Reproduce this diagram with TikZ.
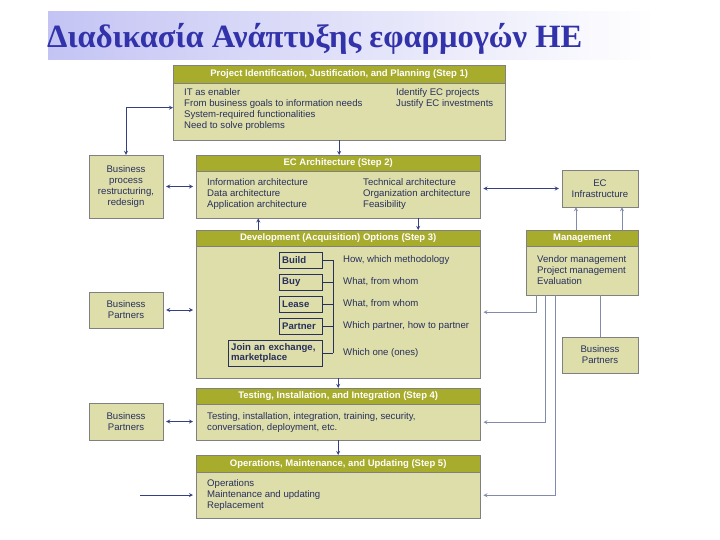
\documentclass[tikz,border=0pt]{standalone}
\usepackage{fontspec}
\setmainfont{Liberation Sans}
\newfontfamily\titlefont{Liberation Serif}

\definecolor{stephead}{RGB}{168,172,44}
\definecolor{stepbody}{RGB}{221,222,170}
\definecolor{stepink}{RGB}{40,48,92}
\definecolor{stepline}{RGB}{52,64,128}
\definecolor{mgmtline}{RGB}{128,140,170}
\definecolor{titleink}{RGB}{50,50,170}
\definecolor{titleback}{RGB}{196,196,244}

\begin{document}
\begin{tikzpicture}[x=1pt,y=-1pt,font=\fontsize{9.6}{11}\selectfont,>=stealth]
    \tikzset{
        head/.style={
            draw=black!50,fill=stephead,text=white,anchor=north west,
            font=\bfseries\fontsize{9.5}{10}\selectfont,inner sep=0pt
        },
        body/.style={
            draw=black!50,fill=stepbody,anchor=north west,inner sep=0pt
        },
        side/.style={
            draw=black!50,fill=stepbody,text=stepink,align=center,
            minimum width=74pt,inner sep=0pt
        },
        txt/.style={anchor=north west,align=left,inner sep=0pt,text=stepink},
        opt/.style={
            draw=stepink,fill=stepbody,text=stepink,anchor=north west,
            font=\bfseries\fontsize{9.6}{10.5}\selectfont,align=left,
            inner xsep=3pt,inner ysep=0pt
        },
        flow/.style={stepline,thick},
        feed/.style={mgmtline,thick}
    }
    \useasboundingbox (0,0) rectangle (720,540);

    % title
    \shade[left color=titleback,right color=white] (48,12) rectangle (655,60);
    \node[anchor=base west,inner sep=0pt,text=titleink,
        font=\titlefont\bfseries\fontsize{32.5}{36}\selectfont] (title) at (47,48)
        {Διαδικασία Ανάπτυξης εφαρμογών ΗΕ};

    % step 1
    \node[body,minimum width=332pt,minimum height=57pt] (planbody) at (173,83) {};
    \node[head,minimum width=332pt,minimum height=18pt] (plan) at (173,65)
        {Project Identification, Justification, and Planning (Step 1)};
    \node[txt] (plantxt) at (184,88)
        {IT as enabler\\From business goals to information needs\\
         System-required functionalities\\Need to solve problems};
    \node[txt] (plantxtb) at (396,88)
        {Identify EC projects\\Justify EC investments};

    % step 2
    \node[body,minimum width=284pt,minimum height=47pt] (archbody) at (196,171) {};
    \node[head,minimum width=284pt,minimum height=16pt] (arch) at (196,155)
        {EC Architecture (Step 2)};
    \node[txt] (archtxt) at (207,178)
        {Information architecture\\Data architecture\\Application architecture};
    \node[txt] (archtxtb) at (363,178)
        {Technical architecture\\Organization architecture\\Feasibility};

    % step 3
    \node[body,minimum width=284pt,minimum height=132pt] (devbody) at (196,246) {};
    \node[head,minimum width=284pt,minimum height=16pt] (dev) at (196,230)
        {Development (Acquisition) Options (Step 3)};
    \node[opt,text width=37pt,minimum height=16pt] (build) at (279,252) {Build};
    \node[opt,text width=37pt,minimum height=16pt] (buy) at (279,274) {Buy};
    \node[opt,text width=37pt,minimum height=16pt] (lease) at (279,296) {Lease};
    \node[opt,text width=37pt,minimum height=16pt] (partner) at (279,318) {Partner};
    \node[opt,text width=88pt,minimum height=26pt] (join) at (228,340)
        {Join an exchange,\\marketplace};
    \coordinate (brk) at (333,0);
    \foreach \o in {build,buy,lease,partner,join}
        \draw[stepink,thick] (\o.east) -- (\o.east -| brk);
    \draw[stepink,thick] (build.east -| brk) -- (join.east -| brk);
    \node[txt,anchor=west] (buildtxt) at (343,260) {How, which methodology};
    \node[txt,anchor=west] (buytxt) at (343,282) {What, from whom};
    \node[txt,anchor=west] (leasetxt) at (343,304) {What, from whom};
    \node[txt,anchor=west] (partnertxt) at (343,326) {Which partner, how to partner};
    \node[txt,anchor=west] (jointxt) at (343,353) {Which one (ones)};

    % step 4
    \node[body,minimum width=284pt,minimum height=36pt] (testbody) at (196,404) {};
    \node[head,minimum width=284pt,minimum height=16pt] (test) at (196,388)
        {Testing, Installation, and Integration (Step 4)};
    \node[txt] (testtxt) at (207,412)
        {Testing, installation, integration, training, security,\\
         conversation, deployment, etc.};

    % step 5
    \node[body,minimum width=284pt,minimum height=46pt] (opsbody) at (196,472) {};
    \node[head,minimum width=284pt,minimum height=17pt] (ops) at (196,455)
        {Operations, Maintenance, and Updating (Step 5)};
    \node[txt] (opstxt) at (207,479)
        {Operations\\Maintenance and updating\\Replacement};

    % management
    \node[body,minimum width=112pt,minimum height=49pt] (mgmtbody) at (526,246) {};
    \node[head,minimum width=112pt,minimum height=16pt] (mgmt) at (526,230)
        {Management};
    \node[txt] (mgmttxt) at (537,255)
        {Vendor management\\Project management\\Evaluation};

    % side boxes
    \node[side,minimum height=63pt] (bpproc) at (126,186.5)
        {Business\\process\\restructuring,\\redesign};
    \node[side,minimum height=36pt] (bpdev) at (126,310) {Business\\Partners};
    \node[side,minimum height=37pt] (bptest) at (126,421.5) {Business\\Partners};
    \node[side,minimum width=76pt,minimum height=37pt] (infra) at (600,188.5)
        {EC\\Infrastructure};
    \node[side,minimum width=76pt,minimum height=36pt] (bpmgmt) at (600,355)
        {Business\\Partners};

    % connectors
    \draw[flow,<->] ([yshift=4pt]planbody.west) -| (bpproc.north);
    \draw[flow,->] (planbody.south) -- (planbody.south |- arch.north);
    \draw[flow,<->,shorten <=3pt,shorten >=3pt]
        (bpproc.east) -- (bpproc.east -| archbody.west);
    \draw[flow,<->,shorten <=3pt,shorten >=3pt]
        (infra.west) -- (infra.west -| archbody.east);
    \draw[flow,->] ([xshift=-80pt]dev.north) -- ([xshift=-80pt]archbody.south);
    \draw[flow,->] ([xshift=80pt]archbody.south) -- ([xshift=80pt]dev.north);
    \draw[flow,<->,shorten <=3pt,shorten >=3pt]
        (bpdev.east) -- (bpdev.east -| devbody.west);
    \draw[flow,->] (devbody.south) -- (devbody.south |- test.north);
    \draw[flow,<->,shorten <=3pt,shorten >=3pt]
        (bptest.east) -- (bptest.east -| testbody.west);
    \draw[flow,->] (testbody.south) -- (testbody.south |- ops.north);
    \coordinate (opsfeed) at (140,495);
    \draw[flow,->,shorten >=3pt] (opsfeed) -- (opsfeed -| opsbody.west);

    \draw[feed,->] ([xshift=-24pt]infra.south |- mgmt.north)
        -- ([xshift=-24pt]infra.south);
    \draw[feed,->] ([xshift=22pt]infra.south |- mgmt.north)
        -- ([xshift=22pt]infra.south);
    \draw[feed] (bpmgmt.north |- mgmtbody.south) -- (bpmgmt.north);
    \draw[feed,->,shorten >=3pt] ([xshift=-46pt]mgmtbody.south) |- (devbody.east);
    \draw[feed,->,shorten >=3pt] ([xshift=-37pt]mgmtbody.south) |- (testbody.east);
    \draw[feed,->,shorten >=3pt] ([xshift=-27pt]mgmtbody.south) |- (opsbody.east);
\end{tikzpicture}
\end{document}
